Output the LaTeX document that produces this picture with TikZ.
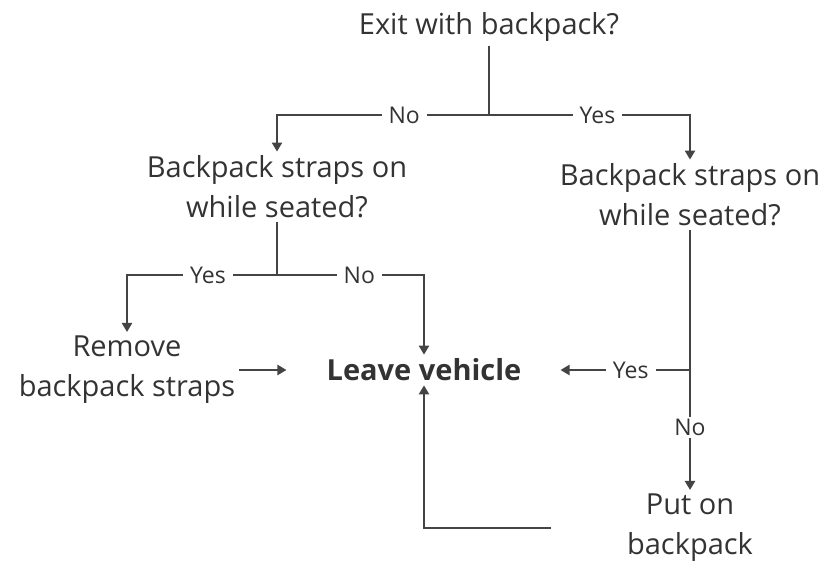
\documentclass[tikz,border=0pt]{standalone}
\usepackage{fontspec}
\setmainfont{Open Sans}
\usetikzlibrary{arrows.meta}
\definecolor{ink}{HTML}{333333}
\definecolor{wire}{HTML}{444444}
\begin{document}
\begin{tikzpicture}[x=1pt,y=-1pt,
  box/.style={align=center,text=ink,font=\fontsize{29}{40}\selectfont,inner sep=4pt},
  lbl/.style={fill=white,text=ink,font=\fontsize{23}{26}\selectfont,inner xsep=7pt,inner ysep=2pt},
  link/.style={draw=wire,line width=2.7pt},
  arr/.style={link,-{Triangle[width=10pt,length=9pt]}}]
\useasboundingbox (0,0) rectangle (827,565);
% questions, actions
\node[box] (q1) at (489,27) {Exit with backpack?};
\node[box] (q2) at (277,187) {Backpack straps on\\while seated?};
\node[box] (q3) at (690,195) {Backpack straps on\\while seated?};
\node[box] (rm) at (127,370) {Remove\\backpack straps};
\node[box,font=\fontsize{29}{40}\selectfont\bfseries] (lv) at (424,370) {Leave vehicle};
\node[box] (po) at (690,528) {Put on\\backpack};
% branch points
\coordinate (j1) at (489,115);
\coordinate (j2) at (277,275);
\coordinate (j3) at (690,370);
% first decision
\draw[link] (q1.south) -- (j1);
\draw[arr] (j1) -| node[lbl,pos=0.2] {No} (q2.north);
\draw[arr] (j1) -| node[lbl,pos=0.27] {Yes} (q3.north);
% left decision
\draw[link] (q2.south) -- (j2);
\draw[arr] (j2) -| node[lbl,pos=0.23] {Yes} (rm.north);
\draw[arr] (j2) -| node[lbl,pos=0.28] {No} (lv.north);
\draw[arr,shorten >=36pt] (rm.east) -- (lv.west);
% right decision
\draw[arr] (q3.south) -- node[lbl,pos=0.76] {No} (po.north);
\draw[arr,shorten >=35pt] (j3) -- node[lbl,pos=0.36] {Yes} (lv.east);
% back from putting on the backpack
\draw[arr,shorten <=72pt] (po.west) -| (lv.south);
\end{tikzpicture}
\end{document}
